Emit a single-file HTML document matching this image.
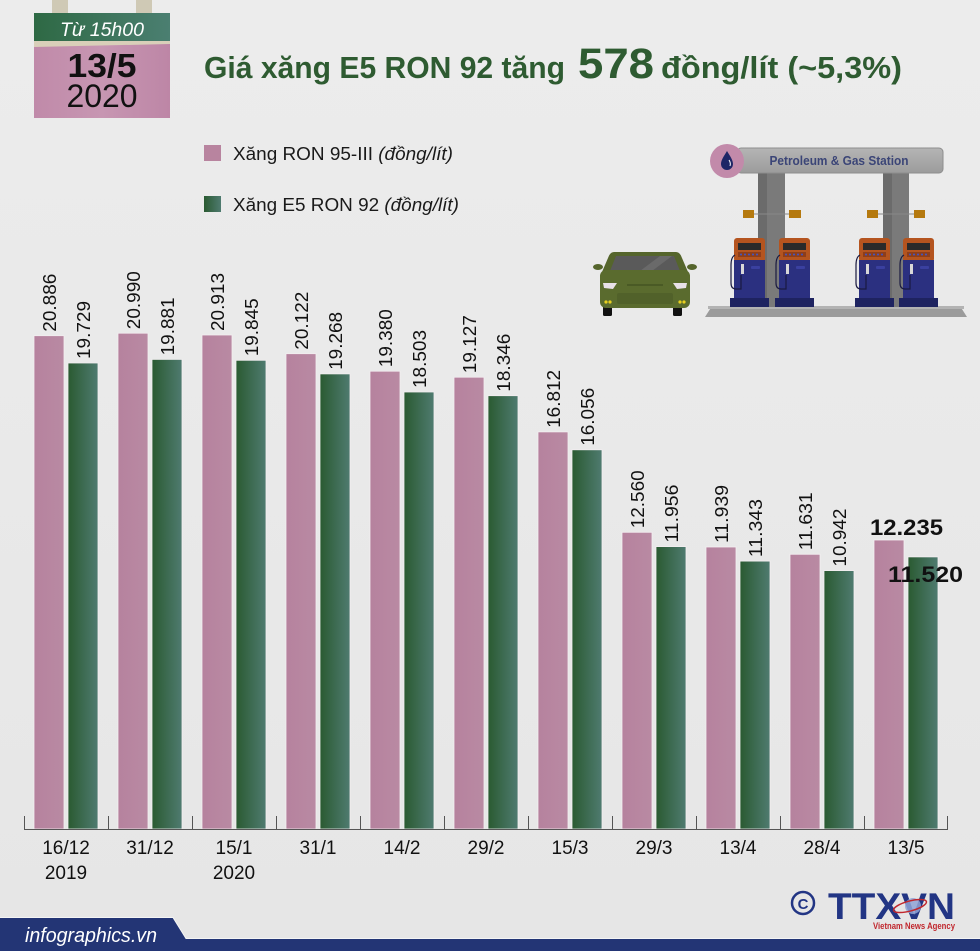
<!DOCTYPE html>
<html><head><meta charset="utf-8">
<style>
html,body{margin:0;padding:0;background:#e9e9e9;}
svg{display:block;}
text{font-family:"Liberation Sans",sans-serif;}
</style></head>
<body>
<svg width="980" height="951" viewBox="0 0 980 951" xmlns="http://www.w3.org/2000/svg">
<defs>
<linearGradient id="bg" x1="0" y1="0" x2="0" y2="1">
<stop offset="0" stop-color="#ececec"/><stop offset="1" stop-color="#e6e6e6"/>
</linearGradient>
<linearGradient id="gr" x1="0" y1="0" x2="1" y2="0">
<stop offset="0" stop-color="#2a5a31"/><stop offset="1" stop-color="#4f7b70"/>
</linearGradient>
<linearGradient id="pk" x1="0" y1="0" x2="1" y2="0">
<stop offset="0" stop-color="#b6829e"/><stop offset="1" stop-color="#b98aa3"/>
</linearGradient>
<linearGradient id="band" x1="0" y1="0" x2="1" y2="0">
<stop offset="0" stop-color="#2e6944"/><stop offset="1" stop-color="#4b7f71"/>
</linearGradient>
<linearGradient id="cal" x1="0" y1="0" x2="1" y2="0">
<stop offset="0" stop-color="#c08aa9"/><stop offset="0.5" stop-color="#c796b2"/><stop offset="1" stop-color="#bd86a6"/>
</linearGradient>
<linearGradient id="sign" x1="0" y1="0" x2="0" y2="1">
<stop offset="0" stop-color="#b5b5b5"/><stop offset="1" stop-color="#9c9c9c"/>
</linearGradient>
</defs>
<rect width="980" height="951" fill="url(#bg)"/>

<!-- calendar -->
<rect x="52" y="0" width="16" height="15" fill="#cfc9b5"/>
<rect x="136" y="0" width="16" height="15" fill="#cfc9b5"/>
<rect x="34" y="13" width="136" height="28" fill="url(#band)"/>
<rect x="34" y="41" width="136" height="77" fill="url(#cal)"/>
<polygon points="34,41 170,41 170,44 34,47" fill="#d9cfb9"/>
<text x="102" y="36" text-anchor="middle" font-size="19" font-style="italic" fill="#ffffff" textLength="84" lengthAdjust="spacingAndGlyphs">Từ 15h00</text>
<text x="102" y="77" text-anchor="middle" font-size="33" font-weight="bold" fill="#111" textLength="69" lengthAdjust="spacingAndGlyphs">13/5</text>
<text x="102" y="107" text-anchor="middle" font-size="32" fill="#111" textLength="71" lengthAdjust="spacingAndGlyphs">2020</text>

<!-- title -->
<text x="204" y="78" font-size="31" font-weight="bold" fill="#2e5b31" textLength="361" lengthAdjust="spacingAndGlyphs">Giá xăng E5 RON 92 tăng</text>
<text x="578" y="78" font-size="43" font-weight="bold" fill="#2e5b31" textLength="76" lengthAdjust="spacingAndGlyphs">578</text>
<text x="661" y="78" font-size="31" font-weight="bold" fill="#2e5b31" textLength="241" lengthAdjust="spacingAndGlyphs">đồng/lít (~5,3%)</text>

<!-- legend -->
<rect x="204" y="145" width="17" height="16" fill="#b8849f"/>
<text x="233" y="160" font-size="18" fill="#1a1a1a" textLength="220" lengthAdjust="spacingAndGlyphs">Xăng RON 95-III <tspan font-style="italic">(đồng/lít)</tspan></text>
<rect x="204" y="196" width="17" height="16" fill="url(#gr)"/>
<text x="233" y="211" font-size="18" fill="#1a1a1a" textLength="226" lengthAdjust="spacingAndGlyphs">Xăng E5 RON 92 <tspan font-style="italic">(đồng/lít)</tspan></text>

<!-- gas station -->
<g>
<polygon points="712,306 960,306 967,317 705,317" fill="#9b9b9b"/>
<rect x="708" y="306" width="256" height="3" fill="#b3b3b3"/>
<rect x="758" y="172" width="27" height="135" fill="#7a7a7a"/>
<rect x="758" y="172" width="9" height="135" fill="#6b6b6b"/>
<rect x="883" y="172" width="26" height="135" fill="#7a7a7a"/>
<rect x="883" y="172" width="9" height="135" fill="#6b6b6b"/>
<line x1="753" y1="214" x2="789" y2="214" stroke="#888" stroke-width="1"/>
<line x1="878" y1="214" x2="914" y2="214" stroke="#888" stroke-width="1"/>
<rect x="743" y="210" width="11" height="8" fill="#b5790e"/>
<rect x="789" y="210" width="12" height="8" fill="#b5790e"/>
<rect x="867" y="210" width="11" height="8" fill="#b5790e"/>
<rect x="914" y="210" width="11" height="8" fill="#b5790e"/>
<rect x="737" y="148" width="206" height="25" rx="4" fill="url(#sign)" stroke="#8e8e8e" stroke-width="1"/>
<text x="839" y="165" text-anchor="middle" font-family="Liberation Serif,serif" font-size="12.5" font-weight="bold" fill="#3b4577" textLength="139" lengthAdjust="spacingAndGlyphs">Petroleum &amp; Gas Station</text>
<circle cx="727" cy="161" r="17" fill="#c28aaa"/>
<path d="M727,151 C724,156 721,160 721,164 A6,6 0 0 0 733,164 C733,160 730,156 727,151 Z" fill="#1e2666"/>
<path d="M729,160 q2,3 1,6" stroke="#fff" stroke-width="1" fill="none"/>
<!-- pumps -->
<g id="pump">
<rect x="734" y="238" width="31" height="24" rx="3" fill="#b4541f"/>
<rect x="738" y="243" width="23" height="7" fill="#2a2a2a"/>
<rect x="738" y="252" width="23" height="5" fill="#8e3e1a"/>
<circle cx="741" cy="254.5" r="1" fill="#3d57c9"/><circle cx="745" cy="254.5" r="1" fill="#3d57c9"/><circle cx="749" cy="254.5" r="1" fill="#3d57c9"/><circle cx="753" cy="254.5" r="1" fill="#3d57c9"/><circle cx="757" cy="254.5" r="1" fill="#3d57c9"/>
<rect x="734" y="260" width="31" height="39" fill="#2b3080"/>
<rect x="751" y="266" width="9" height="3" rx="1" fill="#3a40a0"/>
<rect x="741" y="264" width="3" height="10" fill="#d8d8d8"/>
<path d="M735,255 q-4,2 -4,10 l0,18 q0,6 5,6 l5,0 l0,-14" stroke="#1a1a40" stroke-width="1.2" fill="none"/>
<rect x="730" y="298" width="39" height="9" fill="#1e2360"/>
</g>
<use href="#pump" transform="translate(45,0)"/>
<use href="#pump" transform="translate(125,0)"/>
<use href="#pump" transform="translate(169,0)"/>
<!-- car -->
<g>
<rect x="603" y="304" width="9" height="12" rx="1.5" fill="#111"/>
<rect x="673" y="304" width="9" height="12" rx="1.5" fill="#111"/>
<path d="M614,252 L676,252 Q680,252 682,258 L688,272 L602,272 L608,258 Q610,252 614,252 Z" fill="#55652c"/>
<path d="M616,256 L674,256 L680,271 L610,271 Z" fill="#5a5a5a"/>
<path d="M640,271 L660,256 L672,256 L652,271 Z" fill="#6a6a6a"/>
<ellipse cx="598" cy="267" rx="5" ry="3" fill="#55652c"/>
<ellipse cx="692" cy="267" rx="5" ry="3" fill="#55652c"/>
<rect x="600" y="270" width="90" height="38" rx="6" fill="#5a6b2e"/>
<path d="M603,283 L617,283 L613,289 L604,288 Z" fill="#e8e0e8"/>
<path d="M687,283 L673,283 L677,289 L686,288 Z" fill="#e8e0e8"/>
<rect x="627" y="284" width="36" height="2" fill="#4a5a25"/>
<rect x="617" y="293" width="56" height="11" rx="2" fill="#51612a"/>
<circle cx="606" cy="302" r="1.6" fill="#e8d020"/><circle cx="610" cy="302" r="1.6" fill="#e8d020"/>
<circle cx="680" cy="302" r="1.6" fill="#e8d020"/><circle cx="684" cy="302" r="1.6" fill="#e8d020"/>
</g>
</g>

<!-- bars -->
<g stroke="#f3eef1" stroke-width="0.8">
<rect x="34" y="335.7" width="30" height="493.3" fill="url(#pk)"/>
<rect x="118" y="333.2" width="30" height="495.8" fill="url(#pk)"/>
<rect x="202" y="335.0" width="30" height="494.0" fill="url(#pk)"/>
<rect x="286" y="353.7" width="30" height="475.3" fill="url(#pk)"/>
<rect x="370" y="371.2" width="30" height="457.8" fill="url(#pk)"/>
<rect x="454" y="377.2" width="30" height="451.8" fill="url(#pk)"/>
<rect x="538" y="431.9" width="30" height="397.1" fill="url(#pk)"/>
<rect x="622" y="532.3" width="30" height="296.7" fill="url(#pk)"/>
<rect x="706" y="547.0" width="30" height="282.0" fill="url(#pk)"/>
<rect x="790" y="554.3" width="30" height="274.7" fill="url(#pk)"/>
<rect x="874" y="540.0" width="30" height="289.0" fill="url(#pk)"/>
<rect x="68" y="363.0" width="30" height="466.0" fill="url(#gr)"/>
<rect x="152" y="359.4" width="30" height="469.6" fill="url(#gr)"/>
<rect x="236" y="360.3" width="30" height="468.7" fill="url(#gr)"/>
<rect x="320" y="373.9" width="30" height="455.1" fill="url(#gr)"/>
<rect x="404" y="392.0" width="30" height="437.0" fill="url(#gr)"/>
<rect x="488" y="395.7" width="30" height="433.3" fill="url(#gr)"/>
<rect x="572" y="449.8" width="30" height="379.2" fill="url(#gr)"/>
<rect x="656" y="546.6" width="30" height="282.4" fill="url(#gr)"/>
<rect x="740" y="561.1" width="30" height="267.9" fill="url(#gr)"/>
<rect x="824" y="570.6" width="30" height="258.4" fill="url(#gr)"/>
<rect x="908" y="556.9" width="30" height="272.1" fill="url(#gr)"/>
</g>

<!-- axis -->
<g stroke="#555" stroke-width="1">
<line x1="24" y1="829.5" x2="948" y2="829.5"/>
<line x1="24.5" y1="816" x2="24.5" y2="830"/>
<line x1="108.5" y1="816" x2="108.5" y2="830"/>
<line x1="192.5" y1="816" x2="192.5" y2="830"/>
<line x1="276.5" y1="816" x2="276.5" y2="830"/>
<line x1="360.5" y1="816" x2="360.5" y2="830"/>
<line x1="444.5" y1="816" x2="444.5" y2="830"/>
<line x1="528.5" y1="816" x2="528.5" y2="830"/>
<line x1="612.5" y1="816" x2="612.5" y2="830"/>
<line x1="696.5" y1="816" x2="696.5" y2="830"/>
<line x1="780.5" y1="816" x2="780.5" y2="830"/>
<line x1="864.5" y1="816" x2="864.5" y2="830"/>
<line x1="947.5" y1="816" x2="947.5" y2="830"/>
</g>

<!-- rotated value labels -->
<g font-size="18" fill="#111">
<text transform="translate(56,331.7) rotate(-90)" textLength="58" lengthAdjust="spacingAndGlyphs">20.886</text>
<text transform="translate(140,329.2) rotate(-90)" textLength="58" lengthAdjust="spacingAndGlyphs">20.990</text>
<text transform="translate(224,331) rotate(-90)" textLength="58" lengthAdjust="spacingAndGlyphs">20.913</text>
<text transform="translate(308,349.7) rotate(-90)" textLength="58" lengthAdjust="spacingAndGlyphs">20.122</text>
<text transform="translate(392,367.2) rotate(-90)" textLength="58" lengthAdjust="spacingAndGlyphs">19.380</text>
<text transform="translate(476,373.2) rotate(-90)" textLength="58" lengthAdjust="spacingAndGlyphs">19.127</text>
<text transform="translate(560,427.9) rotate(-90)" textLength="58" lengthAdjust="spacingAndGlyphs">16.812</text>
<text transform="translate(644,528.3) rotate(-90)" textLength="58" lengthAdjust="spacingAndGlyphs">12.560</text>
<text transform="translate(728,543) rotate(-90)" textLength="58" lengthAdjust="spacingAndGlyphs">11.939</text>
<text transform="translate(812,550.3) rotate(-90)" textLength="58" lengthAdjust="spacingAndGlyphs">11.631</text>
<text transform="translate(90,359) rotate(-90)" textLength="58" lengthAdjust="spacingAndGlyphs">19.729</text>
<text transform="translate(174,355.4) rotate(-90)" textLength="58" lengthAdjust="spacingAndGlyphs">19.881</text>
<text transform="translate(258,356.3) rotate(-90)" textLength="58" lengthAdjust="spacingAndGlyphs">19.845</text>
<text transform="translate(342,369.9) rotate(-90)" textLength="58" lengthAdjust="spacingAndGlyphs">19.268</text>
<text transform="translate(426,388) rotate(-90)" textLength="58" lengthAdjust="spacingAndGlyphs">18.503</text>
<text transform="translate(510,391.7) rotate(-90)" textLength="58" lengthAdjust="spacingAndGlyphs">18.346</text>
<text transform="translate(594,445.8) rotate(-90)" textLength="58" lengthAdjust="spacingAndGlyphs">16.056</text>
<text transform="translate(678,542.6) rotate(-90)" textLength="58" lengthAdjust="spacingAndGlyphs">11.956</text>
<text transform="translate(762,557.1) rotate(-90)" textLength="58" lengthAdjust="spacingAndGlyphs">11.343</text>
<text transform="translate(846,566.6) rotate(-90)" textLength="58" lengthAdjust="spacingAndGlyphs">10.942</text>
</g>
<text x="870" y="535" font-size="22" font-weight="bold" fill="#111" textLength="73" lengthAdjust="spacingAndGlyphs">12.235</text>
<text x="888" y="582" font-size="22" font-weight="bold" fill="#111" textLength="75" lengthAdjust="spacingAndGlyphs">11.520</text>

<!-- x labels -->
<g font-size="19" fill="#111" text-anchor="middle">
<text x="66" y="854">16/12</text>
<text x="66" y="879">2019</text>
<text x="150" y="854">31/12</text>
<text x="234" y="854">15/1</text>
<text x="234" y="879">2020</text>
<text x="318" y="854">31/1</text>
<text x="402" y="854">14/2</text>
<text x="486" y="854">29/2</text>
<text x="570" y="854">15/3</text>
<text x="654" y="854">29/3</text>
<text x="738" y="854">13/4</text>
<text x="822" y="854">28/4</text>
<text x="906" y="854">13/5</text>
</g>

<!-- logo -->
<circle cx="803" cy="903" r="11" fill="none" stroke="#223584" stroke-width="2.5"/>
<text x="803" y="909" text-anchor="middle" font-size="15" font-weight="bold" fill="#223584">C</text>
<text x="828" y="919" font-size="37" font-weight="bold" fill="#223584" textLength="127" lengthAdjust="spacingAndGlyphs">TTXVN</text>
<circle cx="913" cy="906" r="8" fill="#8fa3d6" opacity="0.85"/>
<ellipse cx="910" cy="906" rx="17" ry="5" fill="none" stroke="#c0272d" stroke-width="1.5" transform="rotate(-15 910 906)"/>
<text x="873" y="929" font-size="9" font-weight="bold" fill="#c0272d" textLength="82" lengthAdjust="spacingAndGlyphs">Vietnam News Agency</text>

<!-- footer -->
<polygon points="0,918 173,918 186,939 980,939 980,951 0,951" fill="#233575"/>
<polyline points="0,917.5 173,917.5 186,938.5 980,938.5" fill="none" stroke="#f4f4f4" stroke-width="1"/>
<text x="25" y="942" font-size="20" font-style="italic" fill="#ffffff" textLength="132" lengthAdjust="spacingAndGlyphs">infographics.vn</text>
</svg>
</body></html>
